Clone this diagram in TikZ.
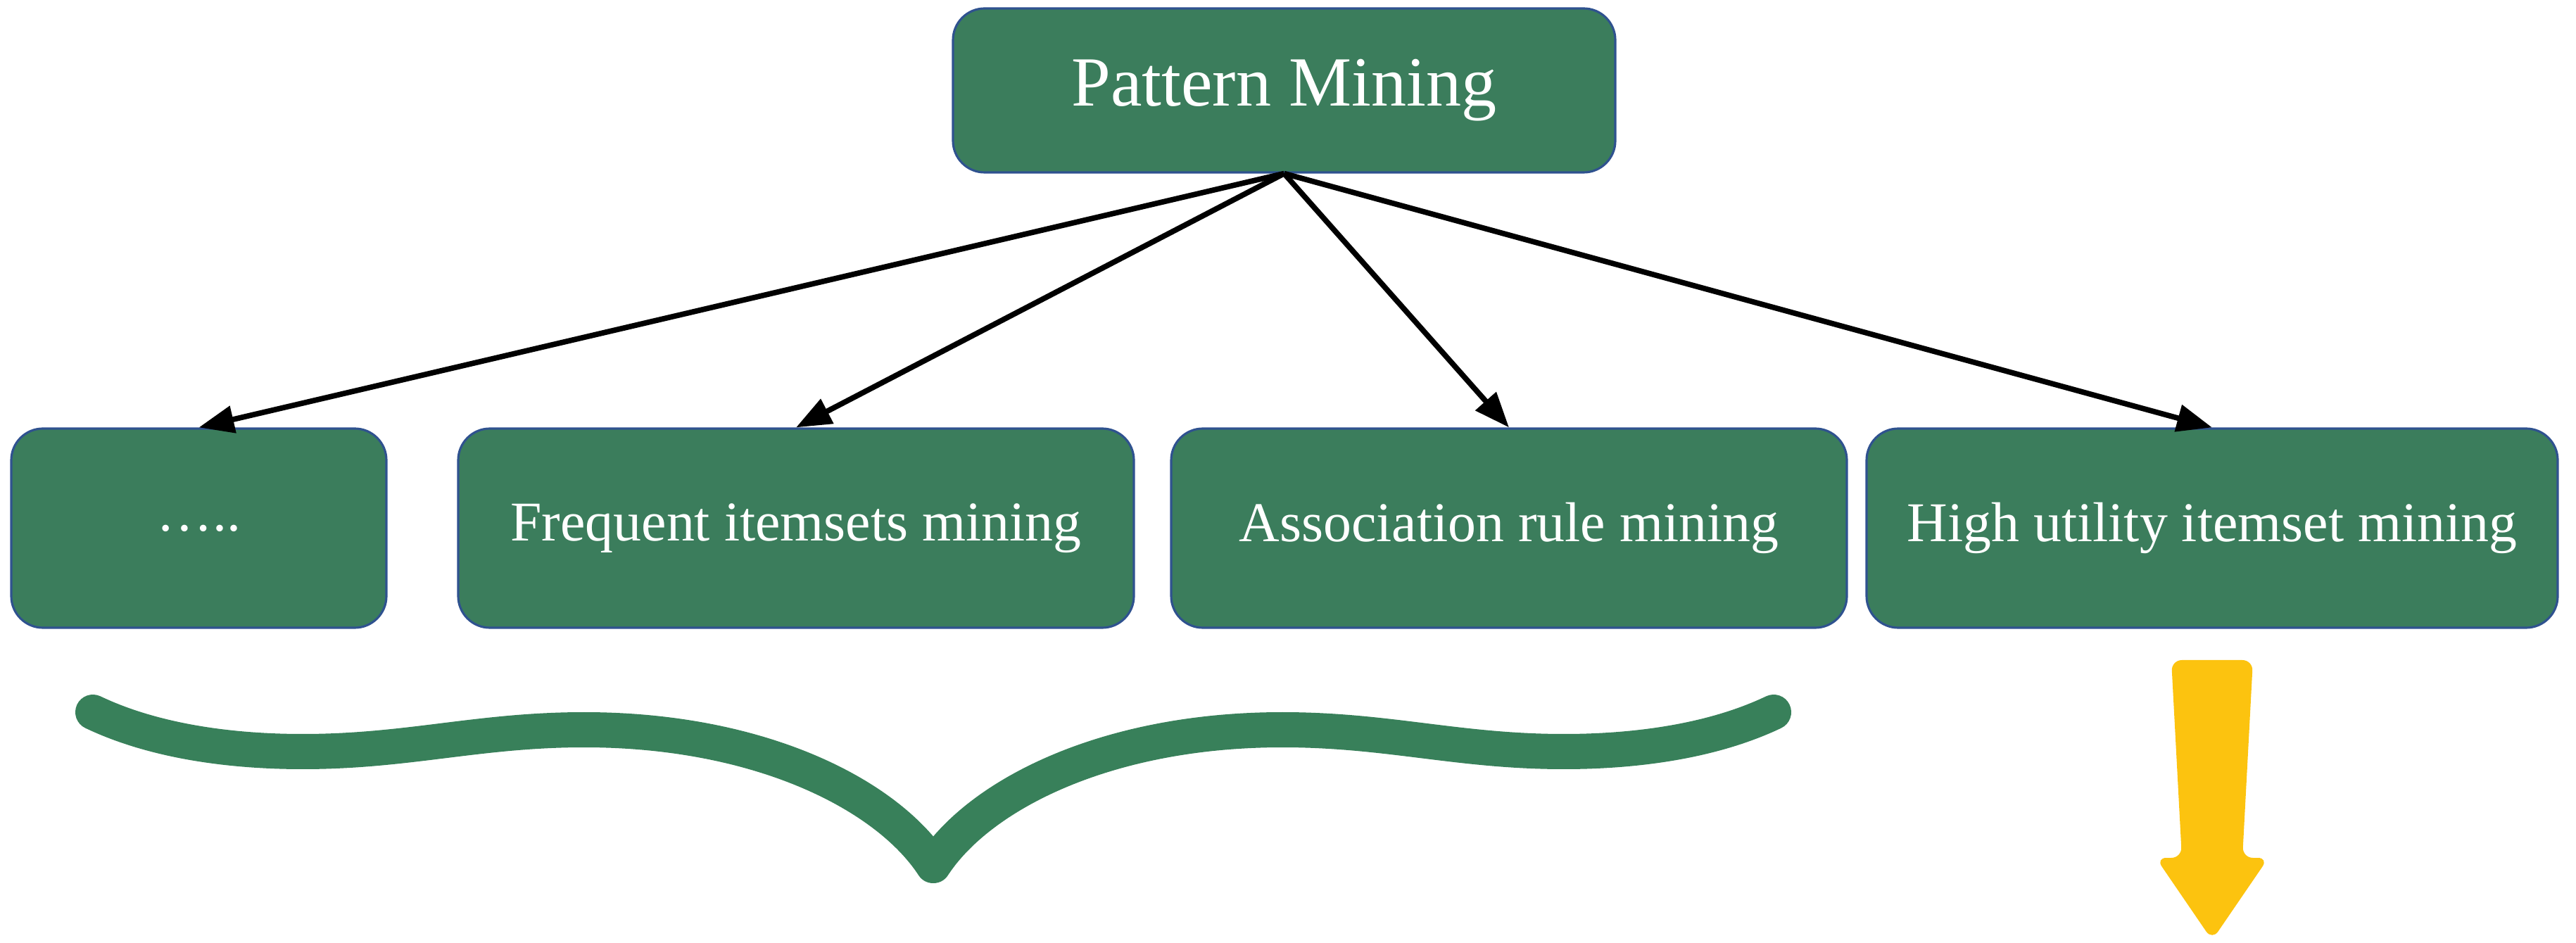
\documentclass[tikz,border=0pt]{standalone}
\usepackage{fontspec}
\setmainfont{Liberation Serif}
\usepackage[HTML]{xcolor}
\usetikzlibrary{positioning, arrows.meta}

\definecolor{boxgreen}{HTML}{3B7D5C}
\definecolor{boxline}{HTML}{2F528F}
\definecolor{bracegreen}{HTML}{38805A}
\definecolor{gold}{HTML}{FCC30F}

\begin{document}
\begin{tikzpicture}[
  blk/.style={draw=boxline, line width=0.9pt, fill=boxgreen, rounded corners=0.45cm,
    text=white, minimum height=2.83cm, inner sep=0pt, font=\fontsize{22.7}{27}\selectfont},
  link/.style={line width=2.2pt, -{Triangle[length=0.5cm, width=0.38cm]}}]
\useasboundingbox (0,0) rectangle (36.6,13.39);

% root and the four kinds of mining
\node[blk, minimum width=9.41cm, minimum height=2.33cm,
  font=\fontsize{28.5}{34}\selectfont] (PM) at (18.245,12.105) {Pattern Mining};

\node[blk, minimum width=5.33cm] (ETC)  at (2.825,5.885) {…..};
\node[blk, minimum width=9.60cm] (FIM)  at (11.31,5.885) {Frequent itemsets mining};
\node[blk, minimum width=9.60cm] (ARM)  at (21.44,5.885) {Association rule mining};
\node[blk, minimum width=9.82cm] (HUIM) at (31.43,5.885) {High utility itemset mining};

\draw[link] (PM.south) -- (ETC.north);
\draw[link] (PM.south) -- (FIM.north);
\draw[link] (PM.south) -- (ARM.north);
\draw[link] (PM.south) -- (HUIM.north);

% brace under the first three
\draw[bracegreen, line width=0.5cm, line cap=round, line join=round]
  (1.32,3.27) .. controls (2.2,2.85) and (3.3,2.71) .. (4.3,2.71)
  .. controls (5.8,2.71) and (6.8,3.02) .. (8.3,3.02)
  .. controls (10.8,3.02) and (12.6,2.1) .. (13.26,1.09)
  .. controls (13.92,2.1) and (15.72,3.02) .. (18.22,3.02)
  .. controls (19.72,3.02) and (20.72,2.71) .. (22.22,2.71)
  .. controls (23.22,2.71) and (24.32,2.85) .. (25.20,3.27);

% block arrow under HUIM
\fill[gold, rounded corners=0.15cm] (30.85,4.01) -- (32.01,4.01) -- (31.86,1.2)
  -- (32.23,1.2) -- (31.43,0.03) -- (30.63,1.2) -- (31.0,1.2) -- cycle;
\end{tikzpicture}
\end{document}
